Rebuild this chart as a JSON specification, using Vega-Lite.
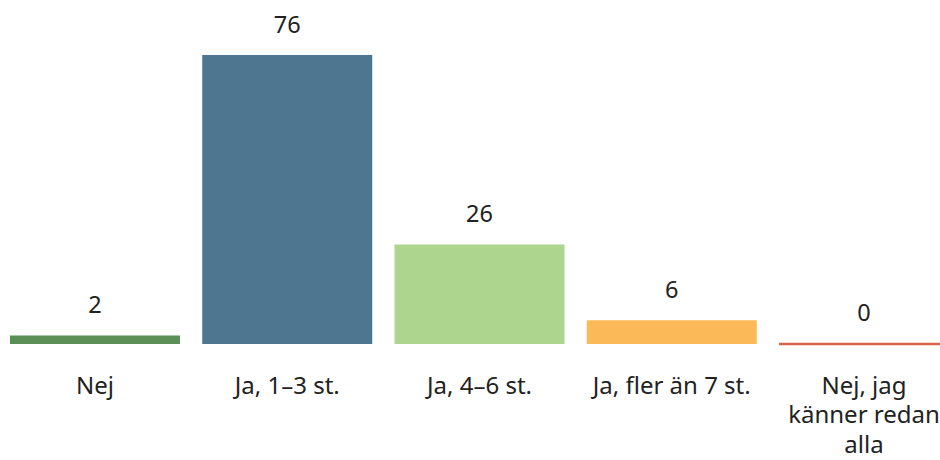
{
  "$schema": "https://vega.github.io/schema/vega-lite/v6.json",
  "width": 959,
  "height": 344,
  "autosize": "none",
  "padding": {"left": 0, "top": 0, "right": 0, "bottom": 116},
  "config": {"view": {"stroke": null}, "font": "Noto Sans"},
  "data": {"values": [
    {"svar": "Nej", "antal": 2},
    {"svar": "Ja, 1–3 st.", "antal": 76},
    {"svar": "Ja, 4–6 st.", "antal": 26},
    {"svar": "Ja, fler än 7 st.", "antal": 6},
    {"svar": "Nej, jag känner redan alla", "antal": 0}
  ]},
  "encoding": {
    "x": {"field": "svar", "type": "nominal", "sort": null,
      "scale": {"paddingInner": 0.1157, "paddingOuter": 0.052},
      "axis": {"title": null, "domain": false, "ticks": false, "labelAngle": 0,
        "labelFontSize": 24, "labelColor": "#222222", "labelPadding": 30,
        "labelLineHeight": 29.5, "labelBaseline": "top", "labelOverlap": false,
        "labelExpr": "datum.value == 'Nej, jag känner redan alla' ? ['Nej, jag', 'känner redan', 'alla'] : datum.value"}},
    "y": {"field": "antal", "type": "quantitative", "stack": null,
      "scale": {"domain": [0, 90.8], "nice": false}, "axis": null},
    "color": {"field": "svar", "type": "nominal", "sort": null, "legend": null,
      "scale": {"range": ["#5B8F57", "#4E7690", "#ADD58E", "#FBB957", "#D9644A"]}}
  },
  "layer": [
    {"mark": {"type": "bar", "yOffset": -1, "y2Offset": 1}},
    {"transform": [{"filter": "datum.antal == 0"}],
      "mark": {"type": "tick", "orient": "horizontal", "size": 170, "thickness": 2.5, "opacity": 1}},
    {"mark": {"type": "text", "baseline": "bottom", "dy": -18, "fontSize": 23.5},
      "encoding": {"text": {"field": "antal", "type": "quantitative"}, "color": {"value": "#222222"}}}
  ]
}
